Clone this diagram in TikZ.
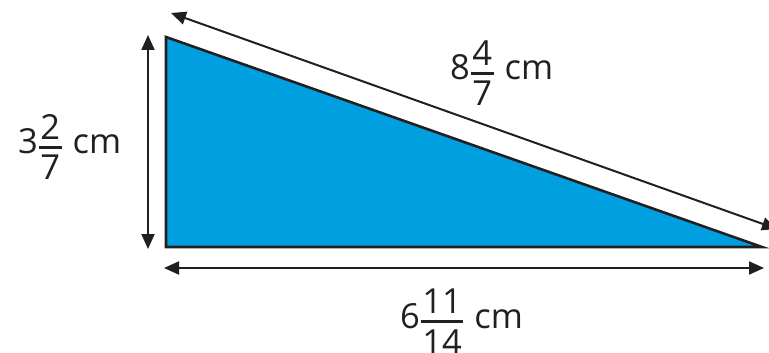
\documentclass[tikz,border=0pt]{standalone}
\usepackage{fontspec}
\setmainfont{Open Sans}
\usetikzlibrary{arrows.meta}
\definecolor{triblue}{HTML}{009FE0}
\definecolor{inkdark}{HTML}{231F20}
\newcommand\digitstrut{\vrule height 24.3pt depth 0pt width 0pt}
\newcommand\fracpart[2]{$\vcenter{\offinterlineskip\halign{\hfil\kern1.5pt##\kern1.5pt\hfil\cr\digitstrut #1\cr\noalign{\vskip6.5pt\hrule height2.6pt\vskip6.5pt}\digitstrut #2\cr}}$}
\newcommand\mixednum[3]{#1\kern1pt\fracpart{#2}{#3}\hspace{11pt}}
\tikzset{
  dimarrow/.style={line width=2pt, {Triangle[length=15pt,width=13pt]}-{Triangle[length=15pt,width=13pt]}},
  tri/.style={fill=triblue, draw=inkdark, line width=2.6pt, line join=miter},
  lbl/.style={font=\fontsize{34.5}{38}\selectfont, inner sep=0pt, text=inkdark, anchor=base west}
}
\begin{document}
\begin{tikzpicture}[x=1pt,y=-1pt]
\useasboundingbox (0,0) rectangle (769,353);
\clip (0,0) rectangle (769,353);
\coordinate (A) at (166,37);
\coordinate (B) at (166,247);
\coordinate (C) at (762,247);
\draw[tri] (A) -- (B) -- (C) -- cycle;
% vertical dimension
\coordinate (v1) at (148,35);
\coordinate (v2) at (148,249);
\draw[dimarrow, inkdark] (v1) -- (v2);
% horizontal dimension
\coordinate (h1) at (164,268);
\coordinate (h2) at (764,268);
\draw[dimarrow, inkdark] (h1) -- (h2);
% hypotenuse dimension
\coordinate (d1) at (171,13);
\coordinate (d2) at (777,229);
\draw[dimarrow, inkdark] (d1) -- (d2);
% labels
\node[lbl] (lv) at (18,153.5) {\mixednum{3}{2}{7}cm};
\node[lbl] (ld) at (450,79.5) {\mixednum{8}{4}{7}cm};
\node[lbl] (lh) at (400,328) {\mixednum{6}{11}{14}cm};
\end{tikzpicture}
\end{document}
